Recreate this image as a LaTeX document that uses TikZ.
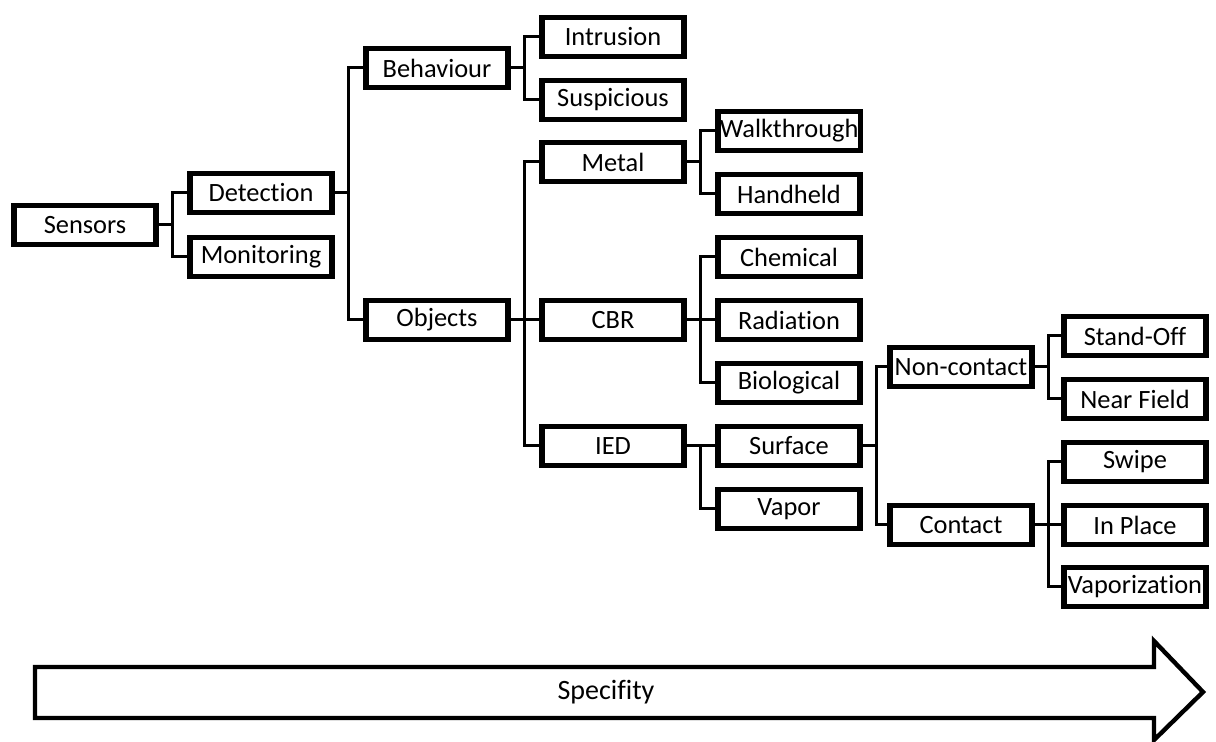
\documentclass[tikz,border=0pt]{standalone}
\usepackage{fontspec}
\setmainfont[Ligatures=NoCommon]{Carlito}
\usetikzlibrary{positioning, shadows}
\tikzset{
  tbox/.style={rectangle, draw, line width=2.8pt, fill=white,
               minimum width=71.2pt, minimum height=19.6pt, inner sep=1pt,
               font=\fontsize{13.2}{14}\selectfont,
               drop shadow={shadow xshift=1.2pt, shadow yshift=-1.2pt,
                            fill=black, opacity=0.2}},
  link/.style={line width=1.5pt,
               to path={-- ++(6.5pt,0) |- (\tikztotarget)}},
  bigarrow/.style={draw, line width=2.2pt, fill=white}
}
\begin{document}
\begin{tikzpicture}[x=0.5pt, y=-0.5pt]
  \useasboundingbox (0,0) rectangle (1216,742);

  %% -- Root and first level --
  \node[tbox] (sensors) at (85,225) {Sensors};
  \node[tbox, right=14pt of sensors, yshift=16pt]  (detection)  {Detection};
  \node[tbox, right=14pt of sensors, yshift=-16pt] (monitoring) {Monitoring};

  %% -- Second level --
  \node[tbox, right=14pt of detection, yshift=62.5pt]  (behaviour) {Behaviour};
  \node[tbox, right=14pt of detection, yshift=-63.5pt] (objects)   {Objects};

  %% -- Third level --
  \node[tbox, right=14pt of behaviour, yshift=15.5pt] (intrusion)  {Intrusion};
  \node[tbox, right=14pt of behaviour, yshift=-16pt]  (suspicious) {Suspicious};
  \node[tbox, right=14pt of objects, yshift=79pt]     (metal)      {Metal};
  \node[tbox, right=14pt of objects]                  (cbr)        {CBR};
  \node[tbox, right=14pt of objects, yshift=-63pt]    (ied)        {IED};

  %% -- Fourth level --
  \node[tbox, right=14pt of metal, yshift=15.5pt]  (walk)       {Walkthrough};
  \node[tbox, right=14pt of metal, yshift=-16pt]   (handheld)   {Handheld};
  \node[tbox, right=14pt of cbr, yshift=31.5pt]    (chemical)   {Chemical};
  \node[tbox, right=14pt of cbr]                   (radiation)  {Radiation};
  \node[tbox, right=14pt of cbr, yshift=-31.5pt]   (biological) {Biological};
  \node[tbox, right=14pt of ied]                   (surface)    {Surface};
  \node[tbox, right=14pt of ied, yshift=-31.5pt]   (vapor)      {Vapor};

  %% -- Fifth level --
  \node[tbox, right=12pt of surface, yshift=39.5pt]  (noncontact) {Non-contact};
  \node[tbox, right=12pt of surface, yshift=-39.5pt] (contact)    {Contact};

  %% -- Sixth level --
  \node[tbox, right=13pt of noncontact, yshift=15.5pt] (standoff)  {Stand-Off};
  \node[tbox, right=13pt of noncontact, yshift=-16pt]  (nearfield) {Near Field};
  \node[tbox, right=13pt of contact, yshift=31.5pt]    (swipe)     {Swipe};
  \node[tbox, right=13pt of contact]                   (inplace)   {In Place};
  \node[tbox, right=13pt of contact, yshift=-31pt]     (vaporize)  {Vaporization};

  %% -- Branches --
  \draw[link] (sensors.east) to (detection.west)
              (sensors.east) to (monitoring.west);
  \draw[link] (detection.east) to (behaviour.west)
              (detection.east) to (objects.west);
  \draw[link] (behaviour.east) to (intrusion.west)
              (behaviour.east) to (suspicious.west);
  \draw[link] (objects.east) to (metal.west)
              (objects.east) to (cbr.west)
              (objects.east) to (ied.west);
  \draw[link] (metal.east) to (walk.west)
              (metal.east) to (handheld.west);
  \draw[link] (cbr.east) to (chemical.west)
              (cbr.east) to (radiation.west)
              (cbr.east) to (biological.west);
  \draw[link] (ied.east) to (surface.west)
              (ied.east) to (vapor.west);
  \draw[link] (surface.east) to (noncontact.west)
              (surface.east) to (contact.west);
  \draw[link] (noncontact.east) to (standoff.west)
              (noncontact.east) to (nearfield.west);
  \draw[link] (contact.east) to (swipe.west)
              (contact.east) to (inplace.west)
              (contact.east) to (vaporize.west);

  %% -- Specificity arrow --
  \draw[bigarrow] (35,667) -- (1154,667) -- (1154,641) -- (1203,692)
    -- (1154,740) -- (1154,718) -- (35,718) -- cycle;
  \node[font=\fontsize{14}{16}\selectfont] (specifity) at (606,692) {Specifity};
\end{tikzpicture}
\end{document}
